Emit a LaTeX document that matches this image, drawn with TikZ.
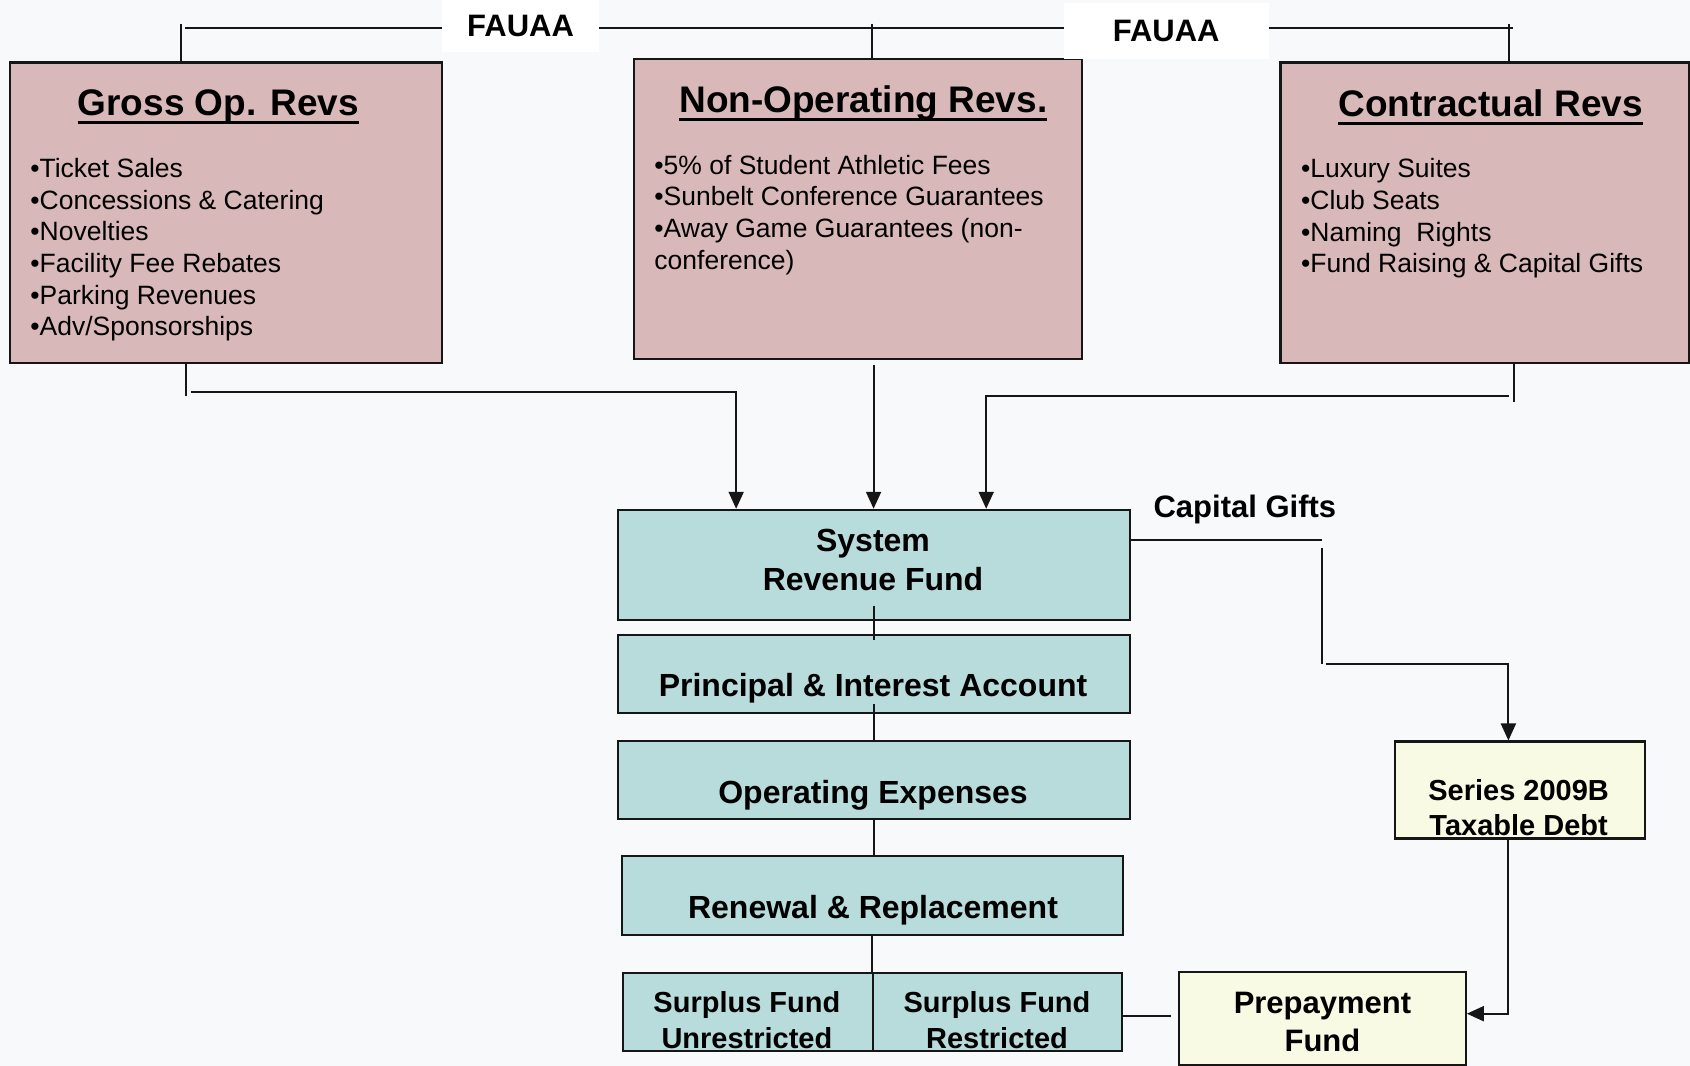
\documentclass[tikz,border=0pt]{standalone}
\usepackage{fontspec}
\setmainfont{Liberation Sans}
\usetikzlibrary{arrows.meta}

\definecolor{revpink}{HTML}{D9B8BA}
\definecolor{fundteal}{HTML}{B8DBDB}
\definecolor{debtcream}{HTML}{F9FAE3}
\definecolor{pagebg}{HTML}{F7F9FB}
\definecolor{edge}{HTML}{161616}

\newlength\px
\setlength\px{1.0778pt}
\newcommand\revtitle[1]{\setbox0=\hbox{#1}\rlap{\rule[-8.5pt]{\wd0}{3pt}}\box0}

\tikzset{
  revbox/.style={draw=edge, line width=2.1pt, fill=revpink, inner sep=0pt},
  fundbox/.style={draw=edge, line width=2.1pt, fill=fundteal, inner sep=0pt},
  debtbox/.style={draw=edge, line width=2.1pt, fill=debtcream, inner sep=0pt},
  tagbox/.style={fill=white, inner sep=0pt, font=\fontsize{31}{37}\selectfont\bfseries},
  revhead/.style={anchor=base, inner sep=0pt, font=\fontsize{37}{44}\selectfont\bfseries},
  revlist/.style={anchor=north west, inner sep=0pt, align=left, font=\fontsize{26.5}{31.7}\selectfont},
  fundtext/.style={inner sep=0pt, align=center, font=\fontsize{32}{38.5}\selectfont\bfseries},
  smalltext/.style={inner sep=0pt, align=center, font=\fontsize{29}{35.5}\selectfont\bfseries},
  debttext/.style={inner sep=0pt, align=center, font=\fontsize{31}{37.4}\selectfont\bfseries},
  link/.style={draw=edge, line width=2pt},
  arr/.style={link, -{Triangle[length=17pt,width=15pt]}},
}

\begin{document}
\begin{tikzpicture}[x=1.0778pt, y=-1.0778pt]
  \fill[pagebg] (0,0) rectangle (1568,989);
  \useasboundingbox (0,0) rectangle (1568,989);

  % revenue sources
  \node[revbox, minimum width=401\px, minimum height=279\px] (gross) at (209.5,197.5) {};
  \node[revbox, minimum width=416\px, minimum height=278\px] (nonop) at (796,194) {};
  \node[revbox, minimum width=379\px, minimum height=279\px] (contr) at (1377.5,197.5) {};

  \node[revhead] (grosshead) at (202.5,107.5) {\revtitle{Gross Op. Revs}};
  \node[revhead] (nonophead) at (801,104) {\revtitle{Non-Operating Revs.}};
  \node[revhead] (contrhead) at (1383,108) {\revtitle{Contractual Revs}};

  \node[revlist] (grosslist) at (28,146.5) {•Ticket Sales\\•Concessions \& Catering\\•Novelties\\•Facility Fee Rebates\\•Parking Revenues\\•Adv/Sponsorships};
  \node[revlist] (nonoplist) at (607,143.5) {•5\% of Student Athletic Fees\\•Sunbelt Conference Guarantees\\•Away Game Guarantees (non-\\conference)};
  \node[revlist] (contrlist) at (1207,147) {•Luxury Suites\\•Club Seats\\•Naming\ \ Rights\\•Fund Raising \& Capital Gifts};

  \node[tagbox, minimum width=146\px, minimum height=48\px] (tagleft) at (483,24) {FAUAA};
  \node[tagbox, minimum width=190\px, minimum height=52\px] (tagright) at (1082,29) {FAUAA};

  % funds
  \node[fundbox, minimum width=475\px, minimum height=102\px] (srf) at (810.5,524) {};
  \node[fundbox, minimum width=475\px, minimum height=72\px] (pia) at (810.5,625.5) {};
  \node[fundbox, minimum width=475\px, minimum height=72\px] (opex) at (810.5,723.5) {};
  \node[fundbox, minimum width=464\px, minimum height=73\px] (renew) at (809.5,831) {};
  \node[fundbox, minimum width=232\px, minimum height=72\px] (surfree) at (693.7,939) {};
  \node[fundbox, minimum width=231.5\px, minimum height=72\px] (surheld) at (925.5,939) {};
  \node[debtbox, minimum width=232\px, minimum height=90\px] (series) at (1410,733) {};
  \node[debtbox, minimum width=266\px, minimum height=86\px] (prepay) at (1227,945) {};

  \node[fundtext] (srftext) at (810,519.7) {System\\Revenue Fund};
  \node[fundtext, anchor=base] (piatext) at (810,646.5) {Principal \& Interest Account};
  \node[fundtext, anchor=base] (opextext) at (810,745.7) {Operating Expenses};
  \node[fundtext, anchor=base] (renewtext) at (810,852) {Renewal \& Replacement};
  \node[smalltext] (surfreetext) at (693,946.5) {Surplus Fund\\Unrestricted};
  \node[smalltext] (surheldtext) at (925,946.5) {Surplus Fund\\Restricted};
  \node[smalltext] (seriestext) at (1409,749.5) {Series 2009B\\Taxable Debt};
  \node[debttext] (prepaytext) at (1227,948.3) {Prepayment\\Fund};
  \node[debttext, anchor=base] (giftlabel) at (1155,479.7) {Capital Gifts};

  % top bracket
  \coordinate (tl) at (168,26);
  \coordinate (tn) at (809,26);
  \coordinate (tc) at (1400,26);
  \coordinate (tr) at (1404,26);
  \draw[link] ([xshift=4\px]tl) -- (tl -| tagleft.west);
  \draw[link] (tagleft.east |- tl) -- (tagright.west |- tl);
  \draw[link] (tagright.east |- tl) -- (tr);
  \draw[link] ([yshift=4\px]tl) -- (tl |- gross.north);
  \draw[link] ([yshift=4\px]tn) -- (tn |- nonop.north);
  \draw[link] ([yshift=4\px]tc) -- (tc |- contr.north);

  % feeds into the revenue fund
  \coordinate (gb) at (173,367);
  \coordinate (gh) at (177,364);
  \coordinate (ga) at (683,364);
  \draw[link] (gb |- gross.south) -- (gb);
  \draw[arr] (gh) -- (ga) -- (ga |- srf.north);
  \draw[arr] ([yshift=-5\px]srf.north |- nonop.south) -- (srf.north);
  \coordinate (cb) at (1405,373);
  \coordinate (ch) at (1400,367);
  \coordinate (ca) at (915,367);
  \draw[link] (cb |- contr.south) -- (cb);
  \draw[arr] (ch) -- (ca) -- (ca |- srf.north);

  % fund chain
  \draw[link] ([yshift=14\px]srf.south) -- ([yshift=-5\px]pia.north);
  \draw[link] ([yshift=9\px]pia.south) -- (opex.north);
  \draw[link] (opex.south) -- (opex.south |- renew.north);
  \draw[link] (renew.south) -- (renew.south |- surfree.north);
  \coordinate (pw) at (1086,943);
  \draw[link] (surheld.east |- pw) -- (pw);

  % capital gifts
  \coordinate (cg1) at (1227,501);
  \coordinate (cg2) at (1227,508);
  \coordinate (cg3) at (1227,616);
  \coordinate (cg4) at (1230,616);
  \coordinate (cg5) at (1399.5,616);
  \coordinate (sp) at (1399.5,940.5);
  \draw[link] (srf.east |- cg1) -- (cg1);
  \draw[link] (cg2) -- (cg3);
  \draw[arr] (cg4) -- (cg5) -- (cg5 |- series.north);
  \draw[arr] (sp |- series.south) -- (sp) -- (sp -| prepay.east);
\end{tikzpicture}
\end{document}
